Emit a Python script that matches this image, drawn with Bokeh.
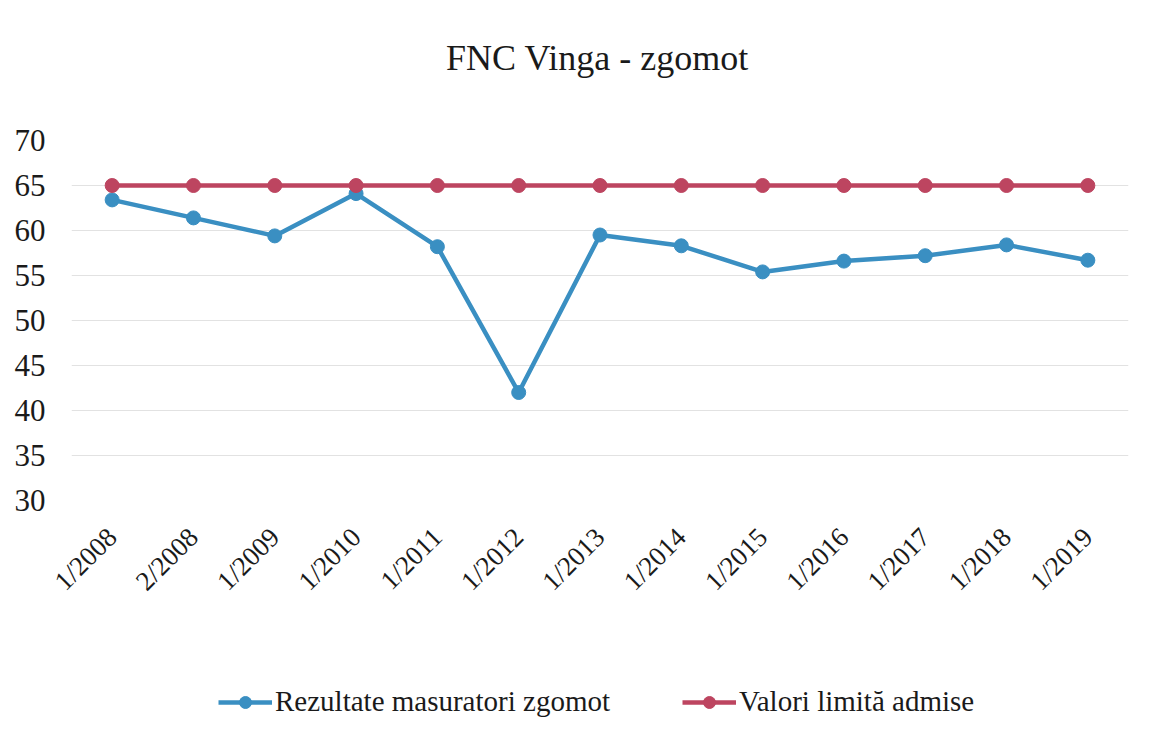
import math
from bokeh.plotting import figure
from bokeh.layouts import column
from bokeh.models import ColumnDataSource, FactorRange, Legend, LegendItem, Range1d, FixedTicker, Label
from bokeh.embed import file_html
from bokeh.resources import INLINE

categories = ["1/2008", "2/2008", "1/2009", "1/2010", "1/2011", "1/2012", "1/2013",
              "1/2014", "1/2015", "1/2016", "1/2017", "1/2018", "1/2019"]
rezultate = [63.4, 61.4, 59.4, 64.1, 58.2, 42.0, 59.5, 58.3, 55.4, 56.6, 57.2, 58.4, 56.7]
valori_limita = [65, 65, 65, 65, 65, 65, 65, 65, 65, 65, 65, 65, 65]
y_ticks = [30, 35, 40, 45, 50, 55, 60, 65, 70]
series_names = ["Rezultate masuratori zgomot", "Valori limită admise"]
chart_title = "FNC Vinga - zgomot"

BLUE = "#3a8fc2"
RED = "#bd4560"
FONT = "Liberation Serif"


def blank_figure(height):
    f = figure(width=1152, height=height, output_backend="svg", toolbar_location=None,
               x_range=Range1d(0, 1), y_range=Range1d(0, 1), x_axis_type=None, y_axis_type=None,
               min_border=0)
    f.outline_line_color = None
    f.xgrid.visible = False
    f.ygrid.visible = False
    return f


# title figure
tf = blank_figure(100)
tf.add_layout(Label(x=526, y=43, x_units="screen", y_units="screen", text=chart_title,
                    text_font=FONT, text_font_size="36px", text_align="center",
                    text_baseline="middle", text_color="#1a1a1a"))

# main chart
src = ColumnDataSource(dict(cat=categories, rez=rezultate, lim=valori_limita))

p = figure(width=1152, height=540, output_backend="svg", toolbar_location=None,
           x_range=FactorRange(factors=categories, range_padding=0),
           y_range=Range1d(30, 70), title=None,
           min_border_left=71, min_border_top=40, min_border_right=24, min_border_bottom=140)
p.outline_line_color = None
p.background_fill_color = "white"
p.border_fill_color = "white"

p.xgrid.grid_line_color = None
p.ygrid.grid_line_color = "#e2e2e2"
p.ygrid.grid_line_width = 1

p.yaxis.ticker = FixedTicker(ticks=y_ticks)
for ax in (p.xaxis[0], p.yaxis[0]):
    ax.axis_line_color = None
    ax.major_tick_line_color = None
    ax.minor_tick_line_color = None
    ax.major_label_text_font = FONT
    ax.major_label_text_color = "#1a1a1a"
p.yaxis.major_label_text_font_size = "31px"
p.yaxis.major_label_standoff = 20
p.xaxis.major_label_text_font_size = "27px"
p.xaxis.major_label_orientation = math.pi / 4
p.xaxis.major_label_standoff = 26

p.line("cat", "rez", source=src, line_color=BLUE, line_width=4.5)
p.scatter("cat", "rez", source=src, size=14, fill_color=BLUE, line_color=BLUE)
p.line("cat", "lim", source=src, line_color=RED, line_width=4.5)
p.scatter("cat", "lim", source=src, size=14, fill_color=RED, line_color=RED)

# legend figure
lf = blank_figure(98)
hidden = ColumnDataSource(dict(x=[-5], y=[-5]))
ll1 = lf.line("x", "y", source=hidden, line_color=BLUE, line_width=4.5)
ls1 = lf.scatter("x", "y", source=hidden, size=14, fill_color=BLUE, line_color=BLUE)
ll2 = lf.line("x", "y", source=hidden, line_color=RED, line_width=4.5)
ls2 = lf.scatter("x", "y", source=hidden, size=14, fill_color=RED, line_color=RED)
legend = Legend(items=[LegendItem(label=series_names[0], renderers=[ll1, ls1]),
                       LegendItem(label=series_names[1], renderers=[ll2, ls2])],
                orientation="horizontal", location=(147, 20),
                label_text_font=FONT, label_text_font_size="29px", label_text_color="#1a1a1a",
                glyph_width=54, glyph_height=30, label_standoff=3, spacing=72,
                padding=0, margin=0, border_line_color=None, background_fill_alpha=0)
lf.add_layout(legend, "center")

layout = column(tf, p, lf, spacing=0)
open("out.html", "w").write(file_html(layout, INLINE))
